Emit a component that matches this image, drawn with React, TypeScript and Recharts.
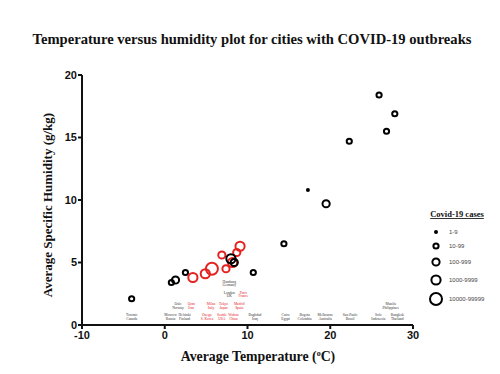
import { ScatterChart, Scatter, XAxis, YAxis, Label } from 'recharts';

// cities plotted (order = draw order, red first so black sits on top)
const cities = ['Toronto', 'Moscow', 'Helsinki', 'Oslo', 'Qom', 'Daegu', 'Milan', 'Tokyo', 'Seattle', 'Wuhan', 'Madrid', 'Paris', 'London', 'Hamburg', 'Baghdad', 'Cairo', 'Bogota', 'Melbourne', 'Sao Paulo', 'Solo', 'Manila', 'Bangkok'];
const temps = [-4.0, 0.8, 1.3, 2.5, 3.4, 4.9, 5.7, 6.9, 7.4, 8.2, 8.7, 9.1, 8.0, 8.4, 10.7, 14.4, 17.3, 19.5, 22.3, 25.9, 26.8, 27.8];
const humidity = [2.1, 3.4, 3.6, 4.2, 3.8, 4.1, 4.5, 5.6, 4.5, 5.0, 5.8, 6.3, 5.3, 5.0, 4.2, 6.5, 10.8, 9.7, 14.7, 18.4, 15.5, 16.9];
// index into caseBins
const caseBin = [1, 1, 2, 1, 3, 3, 4, 2, 2, 3, 2, 3, 3, 2, 1, 1, 0, 2, 1, 1, 1, 1];
const outbreak = [0, 0, 0, 0, 1, 1, 1, 1, 1, 1, 1, 1, 0, 0, 0, 0, 0, 0, 0, 0, 0, 0];

const caseBins = ['1-9', '10-99', '100-999', '1000-9999', '10000-99999'];
const binRadius = [2, 2.6, 3.6, 4.6, 6];

// city labels along the bottom of the plot
const labelCity = ['Toronto', 'Moscow', 'Helsinki', 'Daegu', 'Seattle', 'Wuhan', 'Baghdad', 'Cairo', 'Bogota', 'Melbourne', 'San Paulo', 'Solo', 'Bangkok', 'Oslo', 'Qom', 'Milan', 'Tokyo', 'Madrid', 'Manila', 'London', 'Paris', 'Hamburg'];
const labelCountry = ['Canada', 'Russia', 'Finland', 'S. Korea', 'USA', 'China', 'Iraq', 'Egypt', 'Colombia', 'Australia', 'Brazil', 'Indonesia', 'Thailand', 'Norway', 'Iran', 'Italy', 'Japan', 'Spain', 'Philippines', 'UK', 'France', 'Germany'];
const labelX = [-4.0, 0.7, 2.4, 5.1, 6.9, 8.3, 10.9, 14.6, 16.9, 19.4, 22.4, 25.8, 28.1, 1.6, 3.2, 5.6, 7.1, 9.0, 27.3, 7.8, 9.5, 7.8];
const labelY = [0.7, 0.7, 0.7, 0.7, 0.7, 0.7, 0.7, 0.7, 0.7, 0.7, 0.7, 0.7, 0.7, 1.6, 1.6, 1.6, 1.6, 1.6, 1.6, 2.5, 2.5, 3.4];
const labelRed = [0, 0, 0, 1, 1, 1, 0, 0, 0, 0, 0, 0, 0, 0, 1, 1, 1, 1, 0, 0, 1, 0];

const xTicks = [-10, 0, 10, 20, 30];
const yTicks = [0, 5, 10, 15, 20];

const RED = '#e4221f';

const points = cities.map((c, i) => ({
  city: c, x: temps[i], y: humidity[i], bin: caseBin[i], red: outbreak[i],
}));
const labels = labelCity.map((c, i) => ({
  city: c, country: labelCountry[i], x: labelX[i], y: labelY[i], red: labelRed[i],
}));

const Ring = (props: any) => {
  const { cx, cy, payload } = props;
  const col = payload.red ? RED : '#000';
  if (payload.bin === 0) return <circle cx={cx} cy={cy} r={2} fill={col} />;
  return <circle cx={cx} cy={cy} r={binRadius[payload.bin]} fill="none" stroke={col} strokeWidth={2} />;
};

const CityText = (props: any) => {
  const { cx, cy, payload } = props;
  const col = payload.red ? RED : '#333';
  return (
    <text x={cx} y={cy} textAnchor="middle" fontSize={3.6} fill={col} fontFamily="Liberation Serif">
      <tspan x={cx}>{payload.city}</tspan>
      <tspan x={cx} dy={3.6}>{payload.country}</tspan>
    </text>
  );
};

const tickStyle = { fill: '#111', fontSize: 11, fontWeight: 'bold', fontFamily: 'Liberation Sans' };

export default function App() {
  return (
    <div style={{ position: 'absolute', left: 0, top: 0, width: 500, height: 374, background: '#fff' }}>
      <div style={{ position: 'absolute', top: 31, left: 0, width: 500, textAlign: 'center', fontFamily: 'Liberation Serif', fontWeight: 'bold', fontSize: 14.6, color: '#111', paddingLeft: 4, boxSizing: 'border-box' }}>
        Temperature versus humidity plot for cities with COVID-19 outbreaks
      </div>
      <ScatterChart width={500} height={374} margin={{ top: 75, right: 87, bottom: 29, left: 42 }}>
        <XAxis type="number" dataKey="x" domain={[-10, 30]} ticks={xTicks} height={20}
          axisLine={{ stroke: '#111', strokeWidth: 2 }} tickLine={{ stroke: '#111', strokeWidth: 2 }}
          tickSize={4} tick={tickStyle}>
          <Label content={() => (
            <text x={258} y={361} textAnchor="middle" fontFamily="Liberation Serif" fontWeight="bold" fontSize={13.8} fill="#111">
              Average Temperature (<tspan fontSize={8} dy={-5}>o</tspan><tspan dy={5}>C)</tspan>
            </text>
          )} />
        </XAxis>
        <YAxis type="number" dataKey="y" domain={[0, 20]} ticks={yTicks} width={40}
          axisLine={{ stroke: '#111', strokeWidth: 2 }} tickLine={{ stroke: '#111', strokeWidth: 2 }}
          tickSize={4} tickMargin={1} tick={tickStyle}>
          <Label content={() => (
            <text x={52} y={205} transform="rotate(-90 52 205)" textAnchor="middle" fontFamily="Liberation Serif" fontWeight="bold" fontSize={13} fill="#111">
              Average Specific Humidity (g/kg)
            </text>
          )} />
        </YAxis>
        <Scatter data={labels} shape={CityText} isAnimationActive={false} legendType="none" />
        <Scatter data={points} shape={Ring} isAnimationActive={false} />
      </ScatterChart>
      <svg width={90} height={110} style={{ position: 'absolute', left: 410, top: 200 }}>
        <text x={47} y={17} textAnchor="middle" fontFamily="Liberation Serif" fontWeight="bold" fontSize={8.5} fill="#111" textDecoration="underline">Covid-19 cases</text>
        {caseBins.map((b, i) => {
          const y = [32, 46, 62, 80, 99][i];
          return (
            <g key={b}>
              {i === 0
                ? <circle cx={26} cy={y} r={2} fill="#000" />
                : <circle cx={26} cy={y} r={binRadius[i]} fill="none" stroke="#000" strokeWidth={2} />}
              <text x={39} y={y + 2} fontSize={6} fontFamily="Liberation Sans" fill="#444">{b}</text>
            </g>
          );
        })}
      </svg>
    </div>
  );
}
